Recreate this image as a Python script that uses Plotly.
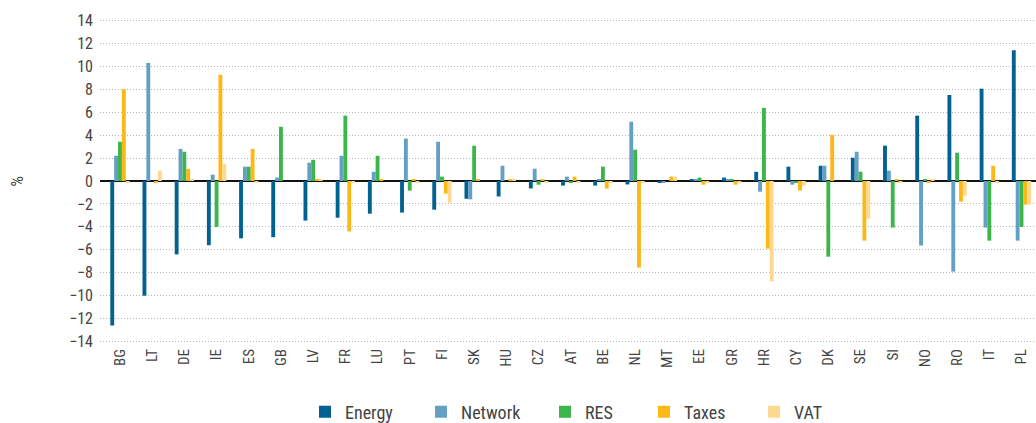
import plotly.graph_objects as go

countries = ["BG", "LT", "DE", "IE", "ES", "GB", "LV", "FR", "LU", "PT", "FI", "SK", "HU", "CZ",
             "AT", "BE", "NL", "MT", "EE", "GR", "HR", "CY", "DK", "SE", "SI", "NO", "RO", "IT", "PL"]

energy = [-12.6, -10.0, -6.4, -5.6, -5.0, -4.9, -3.45, -3.2, -2.85, -2.75, -2.5, -1.55, -1.35, -0.65,
          -0.4, -0.4, -0.3, -0.1, 0.1, 0.3, 0.8, 1.25, 1.33, 2.03, 3.08, 5.7, 7.5, 8.05, 11.4]
network = [2.2, 10.3, 2.8, 0.55, 1.25, 0.3, 1.6, 2.2, 0.8, 3.7, 3.42, -1.6, 1.33, 1.07,
           0.38, 0.1, 5.17, -0.1, 0.1, 0.1, -0.93, -0.32, 1.33, 2.55, 0.9, -5.63, -7.9, -4.06, -5.2]
res = [3.42, 0.0, 2.55, -4.0, 1.25, 4.73, 1.85, 5.7, 2.2, -0.84, 0.38, 3.08, 0.0, -0.32,
       -0.1, 1.25, 2.73, 0.0, 0.3, 0.1, 6.38, -0.1, -6.6, 0.81, -4.06, 0.1, 2.47, -5.2, -4.0]
taxes = [8.0, -0.1, 1.07, 9.26, 2.8, 0.0, 0.1, -4.4, 0.1, 0.1, -1.1, 0.1, 0.1, 0.1,
         0.38, -0.67, -7.55, 0.38, -0.32, -0.32, -5.9, -0.84, 4.03, -5.2, 0.1, -0.1, -1.8, 1.33, -2.06]
vat = [-0.1, 0.9, 0.1, 1.5, -0.1, 0.0, 0.1, -0.1, 0.0, -0.1, -1.9, 0.0, 0.1, -0.1,
       -0.1, -0.1, -0.1, 0.38, -0.1, -0.1, -8.75, -0.41, 0.0, -3.28, -0.1, 0.1, -1.28, -0.1, -2.06]

y_ticks = list(range(-14, 15, 2))

series = [
    ("Energy", energy, "#006192"),
    ("Network", network, "#649fc4"),
    ("RES", res, "#3cb54a"),
    ("Taxes", taxes, "#fbb817"),
    ("VAT", vat, "#fdd98f"),
]
# left edge (px) of each legend entry's text
legend_text_x = [345, 461, 585, 684, 794]

font_family = "Liberation Sans Narrow, Arial Narrow, Roboto Condensed, Liberation Sans, sans-serif"
text_color = "#444444"

fig = go.Figure()
legend_layouts = {}
for i, (name, vals, color) in enumerate(series):
    key = "legend" if i == 0 else f"legend{i + 1}"
    fig.add_trace(go.Bar(name=name, x=countries, y=vals, legend=key, showlegend=True,
                         marker=dict(color=color, line=dict(width=0))))
    legend_layouts[key] = dict(
        orientation="h", xref="container", yref="container", visible=True,
        x=(legend_text_x[i] - 40) / 1036, xanchor="left",
        y=(423 - 412) / 423, yanchor="middle",
        font=dict(size=18, color=text_color), bgcolor="rgba(0,0,0,0)",
    )

fig.add_annotation(text="%", xref="paper", yref="y", x=-0.089, y=0, xanchor="center", yanchor="middle",
                   textangle=-90, showarrow=False, font=dict(size=17, color=text_color))

fig.update_layout(
    width=1036, height=423,
    showlegend=True,
    barmode="group",
    bargap=0.4,
    bargroupgap=0,
    plot_bgcolor="white",
    paper_bgcolor="white",
    margin=dict(l=100, r=0, t=17, b=78, autoexpand=False),
    font=dict(family=font_family, size=15, color=text_color),
    xaxis=dict(tickangle=-90, showgrid=False, ticks="", showline=False, range=[-0.62, 28.45],
               tickfont=dict(size=15, color=text_color)),
    yaxis=dict(range=[-14.3, 14.3], tickvals=y_ticks,
               showgrid=True, gridcolor="#b5b5b5", griddash="1px,2px", gridwidth=1,
               zeroline=True, zerolinecolor="#111111", zerolinewidth=2,
               ticks="", tickfont=dict(size=16, color=text_color), ticklabelstandoff=6),
    **legend_layouts,
)

fig.write_html("out.html", config={"displayModeBar": False},
               post_script="document.body.style.margin='0';document.body.style.padding='0';")
